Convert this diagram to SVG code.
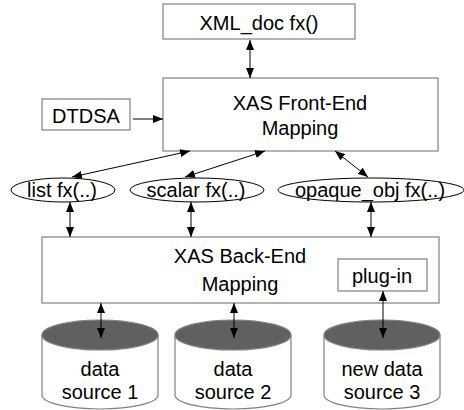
<svg xmlns="http://www.w3.org/2000/svg" width="464" height="410" viewBox="0 0 464 410">
<style>
.box{fill:#fff;stroke:#808080;stroke-width:1.2}
.ell{fill:#fff;stroke:#000;stroke-width:1}
.t{font-family:"Liberation Sans",Arial,sans-serif;font-size:20px;fill:#000;text-anchor:middle}
.c{stroke:#000;stroke-width:1;fill:none}
.cyl{fill:#fff;stroke:#808080;stroke-width:1.2}
.cyltop{fill:#606060;stroke:#808080;stroke-width:1.2}
</style>
<defs>
<marker id="ah" viewBox="0 0 10 8" refX="10" refY="4" markerWidth="10" markerHeight="8" markerUnits="userSpaceOnUse" orient="auto-start-reverse">
<path d="M0,0 L10,4 L0,8 Z" fill="#000"/>
</marker>
</defs>
<g id="xmldoc"><rect class="box" x="163" y="4" width="192" height="35"/><text class="t" x="259" y="30">XML_doc fx()</text></g>
<g id="frontend"><rect class="box" x="163" y="78" width="275" height="73"/><text class="t" x="300" y="110">XAS Front-End</text><text class="t" x="300" y="135">Mapping</text></g>
<g id="dtdsa"><rect class="box" x="42" y="99" width="88" height="31"/><text class="t" x="86" y="123">DTDSA</text></g>
<g id="listfx"><ellipse class="ell" cx="63" cy="190" rx="52" ry="12"/><text class="t" x="62" y="197">list fx(..)</text></g>
<g id="scalarfx"><ellipse class="ell" cx="197" cy="190" rx="67" ry="12"/><text class="t" x="196" y="197">scalar fx(..)</text></g>
<g id="opaquefx"><ellipse class="ell" cx="371" cy="190" rx="93" ry="12"/><text class="t" x="370" y="197">opaque_obj fx(..)</text></g>
<g id="backend"><rect class="box" x="42" y="237" width="397" height="66"/><text class="t" x="240" y="263">XAS Back-End</text><text class="t" x="240" y="291">Mapping</text></g>
<g id="plugin"><rect class="box" x="338" y="259" width="89" height="32"/><text class="t" x="382" y="283">plug-in</text></g>
<g id="ds1"><path class="cyl" d="M42,335 L42,395 A58,14 0 0 0 158,395 L158,335"/><ellipse class="cyltop" cx="100" cy="335" rx="58" ry="15"/><text class="t" x="100" y="376">data</text><text class="t" x="100" y="399">source 1</text></g>
<g id="ds2"><path class="cyl" d="M175,335 L175,395 A58,14 0 0 0 291,395 L291,335"/><ellipse class="cyltop" cx="233" cy="335" rx="58" ry="15"/><text class="t" x="233" y="376">data</text><text class="t" x="233" y="399">source 2</text></g>
<g id="ds3"><path class="cyl" d="M324,335 L324,395 A58,14 0 0 0 440,395 L440,335"/><ellipse class="cyltop" cx="382" cy="335" rx="58" ry="15"/><text class="t" x="382" y="376">new data</text><text class="t" x="382" y="399">source 3</text></g>
<g id="connectors">
<line class="c" x1="250" y1="40" x2="250" y2="78" marker-start="url(#ah)" marker-end="url(#ah)"/>
<line class="c" x1="133" y1="119" x2="163" y2="119" marker-end="url(#ah)"/>
<line class="c" x1="190" y1="151" x2="72" y2="177" marker-start="url(#ah)" marker-end="url(#ah)"/>
<line class="c" x1="265" y1="151" x2="185" y2="177" marker-start="url(#ah)" marker-end="url(#ah)"/>
<line class="c" x1="335" y1="151" x2="368" y2="177" marker-start="url(#ah)" marker-end="url(#ah)"/>
<line class="c" x1="70" y1="202" x2="70" y2="237" marker-start="url(#ah)" marker-end="url(#ah)"/>
<line class="c" x1="191" y1="202" x2="191" y2="237" marker-start="url(#ah)" marker-end="url(#ah)"/>
<line class="c" x1="371" y1="202" x2="371" y2="237" marker-start="url(#ah)" marker-end="url(#ah)"/>
<line class="c" x1="101" y1="303" x2="101" y2="338" marker-start="url(#ah)" marker-end="url(#ah)"/>
<line class="c" x1="234" y1="303" x2="234" y2="338" marker-start="url(#ah)" marker-end="url(#ah)"/>
<line class="c" x1="383" y1="291" x2="383" y2="338" marker-start="url(#ah)" marker-end="url(#ah)"/>
</g>
</svg>
